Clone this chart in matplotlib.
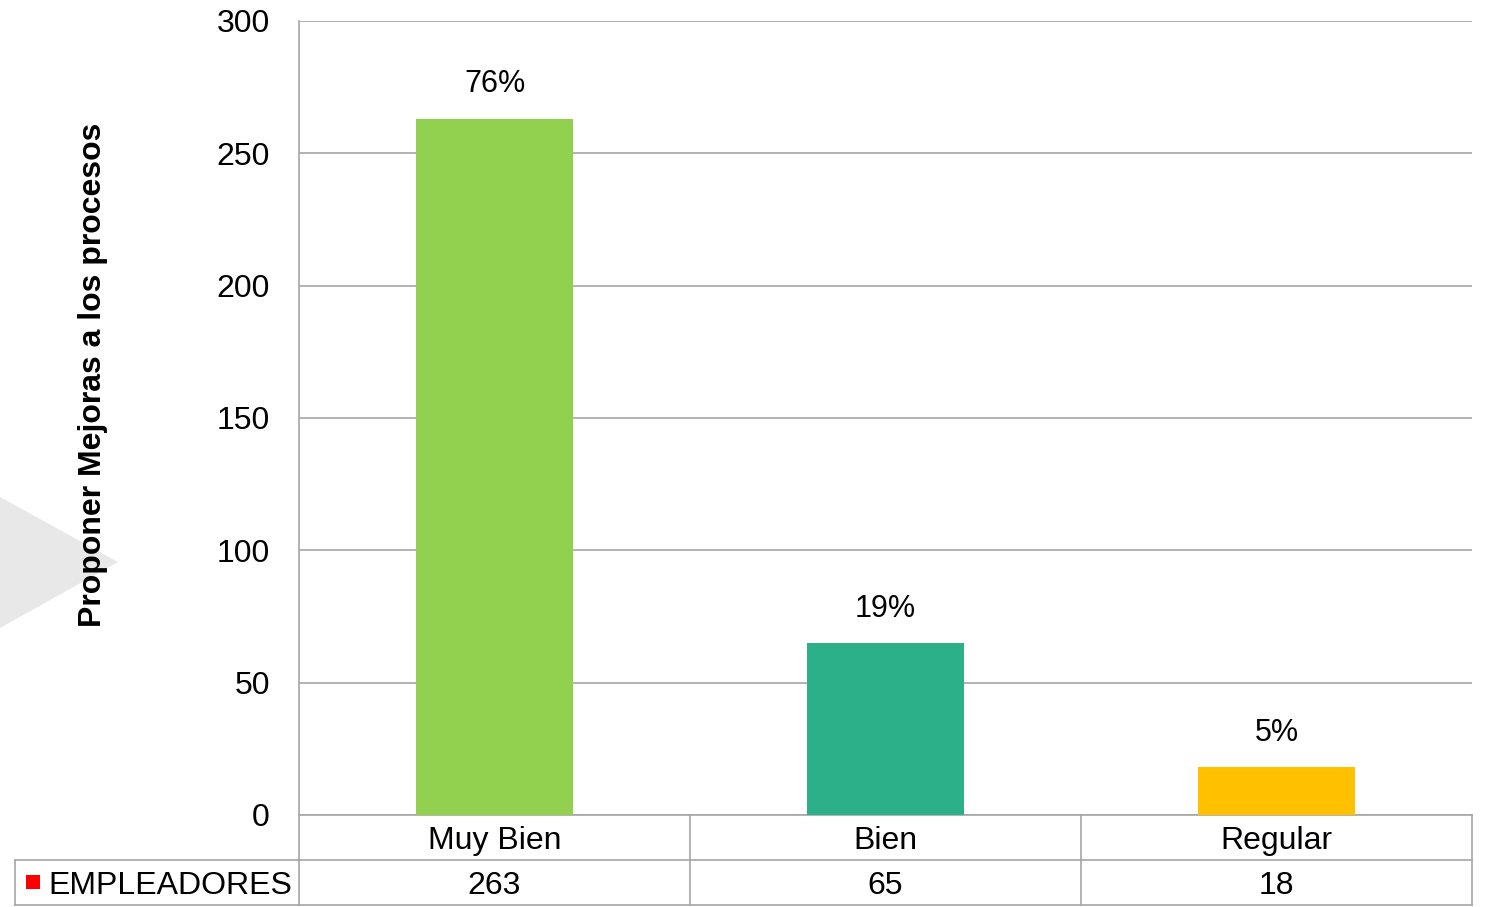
import matplotlib.pyplot as plt
from matplotlib.patches import Polygon, Rectangle
from matplotlib.lines import Line2D

plt.rcParams['font.family'] = ['Liberation Sans', 'DejaVu Sans']

# datos
categorias = ['Muy Bien', 'Bien', 'Regular']
empleadores = [263, 65, 18]
porcentajes = ['76%', '19%', '5%']
colores = ['#92D050', '#2BB08A', '#FFC000']
serie = 'EMPLEADORES'
titulo_y = 'Proponer Mejoras a los procesos'

W, H = 1486, 907
fig = plt.figure(figsize=(W / 100, H / 100), dpi=100)

# triangulo gris decorativo a la izquierda
fig.patches.append(Polygon([(0, 1 - 497 / H), (118 / W, 1 - 562 / H), (0, 1 - 628 / H)],
                           closed=True, transform=fig.transFigure, facecolor='#E8E8E8',
                           edgecolor='none', zorder=-5))

ax = fig.add_axes([299 / W, (H - 815) / H, (1472 - 299) / W, (815 - 21) / H])
ax.set_facecolor('none')
ax.set_zorder(1)

x = range(len(categorias))
bars = ax.bar(x, empleadores, width=0.4, color=colores, zorder=3)
for b, p in zip(bars, porcentajes):
    ax.annotate(p, (b.get_x() + b.get_width() / 2, b.get_height()), xytext=(0, 14),
                textcoords='offset points', ha='center', va='bottom', fontsize=22)

ax.set_xlim(-0.5, 2.5)
ax.set_ylim(0, 300)
ax.set_yticks(range(0, 301, 50))
ax.yaxis.grid(True, color='#A6A6A6', linewidth=1.2, zorder=0)
ax.set_axisbelow(True)
ax.tick_params(axis='y', length=0, pad=21, labelsize=23)
ax.set_xticks([])
for s in ['top', 'right', 'bottom']:
    ax.spines[s].set_visible(False)
ax.spines['left'].set_color('#A6A6A6')
ax.spines['left'].set_linewidth(1.2)

ax.set_ylabel(titulo_y, fontsize=23, fontweight='bold')
ax.yaxis.set_label_coords(-0.163, 0.554)

# tabla de datos
hpx = 794
r1 = -45 / hpx
r2 = -90 / hpx
gris = '#A6A6A6'
lc = dict(color=gris, linewidth=1.2, clip_on=False)
ax.add_line(Line2D([-0.5, 2.5], [0, 0], transform=ax.get_xaxis_transform(), **lc))
ax.add_line(Line2D([-0.5, 2.5], [r1, r1], transform=ax.get_xaxis_transform(), **lc))
ax.add_line(Line2D([-0.5, 2.5], [r2, r2], transform=ax.get_xaxis_transform(), **lc))
for xv in [-0.5, 0.5, 1.5, 2.5]:
    ax.add_line(Line2D([xv, xv], [0, r2], transform=ax.get_xaxis_transform(), **lc))
# celda de la etiqueta de serie
x0 = (15 - 299) / (1472 - 299)
ax.add_line(Line2D([x0, 0], [r1, r1], transform=ax.transAxes, **lc))
ax.add_line(Line2D([x0, 0], [r2, r2], transform=ax.transAxes, **lc))
ax.add_line(Line2D([x0, x0], [r1, r2], transform=ax.transAxes, **lc))

for i, (c, v) in enumerate(zip(categorias, empleadores)):
    ax.text(i, -26 / hpx, c, transform=ax.get_xaxis_transform(), ha='center', va='center', fontsize=23)
    ax.text(i, -71 / hpx, str(v), transform=ax.get_xaxis_transform(), ha='center', va='center', fontsize=23)

ax.add_patch(Rectangle(((26 - 299) / 1173, -74 / hpx), 14 / 1173, 14 / hpx,
                       transform=ax.transAxes, facecolor='#FF0000', edgecolor='none', clip_on=False))
ax.text((48 - 299) / 1173, -71 / hpx, serie, transform=ax.transAxes, ha='left', va='center', fontsize=23)

fig.savefig('out.png', dpi=100)
